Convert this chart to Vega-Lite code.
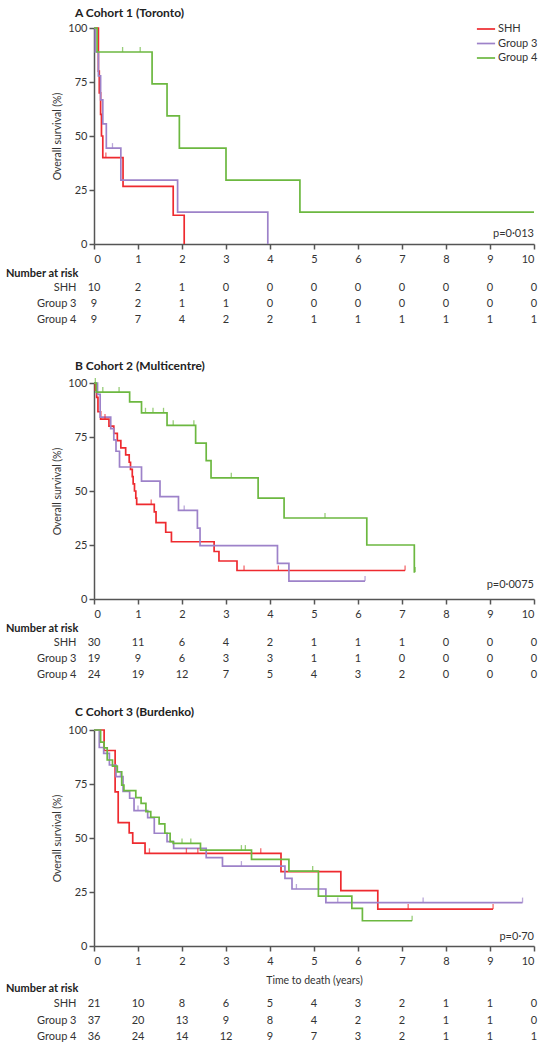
{
  "$schema": "https://vega.github.io/schema/vega-lite/v6.json",
  "padding": {"left": 6, "top": 7, "right": 5, "bottom": 2},
  "config": {
    "font": "Lato",
    "view": {"stroke": null},
    "axis": {"domainColor": "#555", "domainWidth": 1.5, "tickColor": "#555", "tickWidth": 1.5, "tickSize": 5, "labelColor": "#333", "labelFontSize": 11, "labelFont": "Lato", "titleFont": "Lato", "titleFontWeight": "normal", "titleColor": "#333", "titleFontSize": 10.5, "grid": false},
    "title": {"anchor": "start", "frame": "group", "fontSize": 12, "fontWeight": "bold", "color": "#222", "font": "Lato"},
    "line": {"interpolate": "step-after", "strokeWidth": 1.7}
  },
  "datasets": {
    "curveA": [
      {"g":"SHH","t":0,"s":100},{"g":"SHH","t":0.1,"s":80},{"g":"SHH","t":0.12,"s":70},{"g":"SHH","t":0.15,"s":60},{"g":"SHH","t":0.17,"s":50},{"g":"SHH","t":0.2,"s":40},{"g":"SHH","t":0.66,"s":26.7},{"g":"SHH","t":1.8,"s":13.3},{"g":"SHH","t":2.05,"s":0},
      {"g":"Group 3","t":0,"s":100},{"g":"Group 3","t":0.03,"s":88.9},{"g":"Group 3","t":0.1,"s":77.8},{"g":"Group 3","t":0.15,"s":66.7},{"g":"Group 3","t":0.2,"s":55.6},{"g":"Group 3","t":0.28,"s":44.4},{"g":"Group 3","t":0.61,"s":29.6},{"g":"Group 3","t":1.9,"s":14.8},{"g":"Group 3","t":3.95,"s":0},
      {"g":"Group 4","t":0,"s":100},{"g":"Group 4","t":0.07,"s":88.9},{"g":"Group 4","t":1.32,"s":74.1},{"g":"Group 4","t":1.66,"s":59.3},{"g":"Group 4","t":1.94,"s":44.4},{"g":"Group 4","t":3,"s":29.6},{"g":"Group 4","t":4.68,"s":14.8},{"g":"Group 4","t":10,"s":14.8}
    ],
    "tickA": [
      {"g":"SHH","t":0.27,"s":40},{"g":"Group 3","t":0.42,"s":44.4},{"g":"Group 4","t":0.65,"s":88.9},{"g":"Group 4","t":1.05,"s":88.9}
    ],
    "riskA": [
      {"g":"SHH","t":0,"n":10},{"g":"SHH","t":1,"n":2},{"g":"SHH","t":2,"n":1},{"g":"SHH","t":3,"n":0},{"g":"SHH","t":4,"n":0},{"g":"SHH","t":5,"n":0},{"g":"SHH","t":6,"n":0},{"g":"SHH","t":7,"n":0},{"g":"SHH","t":8,"n":0},{"g":"SHH","t":9,"n":0},{"g":"SHH","t":10,"n":0},
      {"g":"Group 3","t":0,"n":9},{"g":"Group 3","t":1,"n":2},{"g":"Group 3","t":2,"n":1},{"g":"Group 3","t":3,"n":1},{"g":"Group 3","t":4,"n":0},{"g":"Group 3","t":5,"n":0},{"g":"Group 3","t":6,"n":0},{"g":"Group 3","t":7,"n":0},{"g":"Group 3","t":8,"n":0},{"g":"Group 3","t":9,"n":0},{"g":"Group 3","t":10,"n":0},
      {"g":"Group 4","t":0,"n":9},{"g":"Group 4","t":1,"n":7},{"g":"Group 4","t":2,"n":4},{"g":"Group 4","t":3,"n":2},{"g":"Group 4","t":4,"n":2},{"g":"Group 4","t":5,"n":1},{"g":"Group 4","t":6,"n":1},{"g":"Group 4","t":7,"n":1},{"g":"Group 4","t":8,"n":1},{"g":"Group 4","t":9,"n":1},{"g":"Group 4","t":10,"n":1}
    ],
    "curveB": [
      {"g":"SHH","t":0,"s":100},{"g":"SHH","t":0.03,"s":96.7},{"g":"SHH","t":0.06,"s":93.3},{"g":"SHH","t":0.09,"s":86.7},{"g":"SHH","t":0.15,"s":83.3},{"g":"SHH","t":0.34,"s":80},{"g":"SHH","t":0.45,"s":76.7},{"g":"SHH","t":0.53,"s":73.3},{"g":"SHH","t":0.61,"s":70},{"g":"SHH","t":0.72,"s":66.7},{"g":"SHH","t":0.8,"s":63.3},{"g":"SHH","t":0.83,"s":60},{"g":"SHH","t":0.87,"s":56.7},{"g":"SHH","t":0.89,"s":53.3},{"g":"SHH","t":0.92,"s":50},{"g":"SHH","t":0.95,"s":46.7},{"g":"SHH","t":0.97,"s":43.8},{"g":"SHH","t":1.37,"s":40.3},{"g":"SHH","t":1.41,"s":35.4},{"g":"SHH","t":1.63,"s":30.9},{"g":"SHH","t":1.76,"s":26.5},{"g":"SHH","t":2.73,"s":22},{"g":"SHH","t":2.84,"s":17.6},{"g":"SHH","t":3.25,"s":13.2},{"g":"SHH","t":7.07,"s":13.2},
      {"g":"Group 3","t":0,"s":100},{"g":"Group 3","t":0.08,"s":94.7},{"g":"Group 3","t":0.14,"s":84.2},{"g":"Group 3","t":0.38,"s":78.9},{"g":"Group 3","t":0.45,"s":73.7},{"g":"Group 3","t":0.5,"s":68.4},{"g":"Group 3","t":0.58,"s":61.1},{"g":"Group 3","t":1.08,"s":54.6},{"g":"Group 3","t":1.5,"s":47.4},{"g":"Group 3","t":1.92,"s":41},{"g":"Group 3","t":2.35,"s":32.8},{"g":"Group 3","t":2.41,"s":24.7},{"g":"Group 3","t":4.17,"s":16.5},{"g":"Group 3","t":4.43,"s":8.3},{"g":"Group 3","t":6.16,"s":8.3},
      {"g":"Group 4","t":0,"s":100},{"g":"Group 4","t":0.05,"s":95.8},{"g":"Group 4","t":0.81,"s":91.3},{"g":"Group 4","t":1.08,"s":86.2},{"g":"Group 4","t":1.66,"s":80.4},{"g":"Group 4","t":2.31,"s":72.2},{"g":"Group 4","t":2.55,"s":64.1},{"g":"Group 4","t":2.66,"s":56.1},{"g":"Group 4","t":3.73,"s":46.7},{"g":"Group 4","t":4.32,"s":37.5},{"g":"Group 4","t":6.2,"s":25},{"g":"Group 4","t":7.28,"s":12.5},{"g":"Group 4","t":7.3,"s":12.5}
    ],
    "tickB": [
      {"g":"SHH","t":0.25,"s":83.3},{"g":"SHH","t":1.3,"s":43.8},{"g":"SHH","t":3.41,"s":13.2},{"g":"SHH","t":4.19,"s":13.2},{"g":"SHH","t":7.07,"s":13.2},
      {"g":"Group 3","t":2.05,"s":41},{"g":"Group 3","t":6.16,"s":8.3},
      {"g":"Group 4","t":0.03,"s":100},{"g":"Group 4","t":0.2,"s":95.8},{"g":"Group 4","t":0.57,"s":95.8},{"g":"Group 4","t":1.17,"s":86.2},{"g":"Group 4","t":1.34,"s":86.2},{"g":"Group 4","t":1.58,"s":86.2},{"g":"Group 4","t":1.8,"s":80.4},{"g":"Group 4","t":2.27,"s":80.4},{"g":"Group 4","t":3.12,"s":56.1},{"g":"Group 4","t":5.25,"s":37.5},{"g":"Group 4","t":7.3,"s":12.5}
    ],
    "riskB": [
      {"g":"SHH","t":0,"n":30},{"g":"SHH","t":1,"n":11},{"g":"SHH","t":2,"n":6},{"g":"SHH","t":3,"n":4},{"g":"SHH","t":4,"n":2},{"g":"SHH","t":5,"n":1},{"g":"SHH","t":6,"n":1},{"g":"SHH","t":7,"n":1},{"g":"SHH","t":8,"n":0},{"g":"SHH","t":9,"n":0},{"g":"SHH","t":10,"n":0},
      {"g":"Group 3","t":0,"n":19},{"g":"Group 3","t":1,"n":9},{"g":"Group 3","t":2,"n":6},{"g":"Group 3","t":3,"n":3},{"g":"Group 3","t":4,"n":3},{"g":"Group 3","t":5,"n":1},{"g":"Group 3","t":6,"n":1},{"g":"Group 3","t":7,"n":0},{"g":"Group 3","t":8,"n":0},{"g":"Group 3","t":9,"n":0},{"g":"Group 3","t":10,"n":0},
      {"g":"Group 4","t":0,"n":24},{"g":"Group 4","t":1,"n":19},{"g":"Group 4","t":2,"n":12},{"g":"Group 4","t":3,"n":7},{"g":"Group 4","t":4,"n":5},{"g":"Group 4","t":5,"n":4},{"g":"Group 4","t":6,"n":3},{"g":"Group 4","t":7,"n":2},{"g":"Group 4","t":8,"n":0},{"g":"Group 4","t":9,"n":0},{"g":"Group 4","t":10,"n":0}
    ],
    "curveC": [
      {"g":"SHH","t":0,"s":100},{"g":"SHH","t":0.23,"s":90.5},{"g":"SHH","t":0.48,"s":71.4},{"g":"SHH","t":0.55,"s":57.1},{"g":"SHH","t":0.8,"s":52.4},{"g":"SHH","t":0.88,"s":47.6},{"g":"SHH","t":1.16,"s":42.9},{"g":"SHH","t":4.25,"s":34.4},{"g":"SHH","t":5.61,"s":25.6},{"g":"SHH","t":6.45,"s":17.1},{"g":"SHH","t":9.07,"s":17.1},
      {"g":"Group 3","t":0,"s":100},{"g":"Group 3","t":0.12,"s":91.9},{"g":"Group 3","t":0.22,"s":89.2},{"g":"Group 3","t":0.35,"s":83.8},{"g":"Group 3","t":0.5,"s":78.4},{"g":"Group 3","t":0.66,"s":71.6},{"g":"Group 3","t":0.81,"s":68.4},{"g":"Group 3","t":0.91,"s":62.7},{"g":"Group 3","t":1.22,"s":59.4},{"g":"Group 3","t":1.37,"s":52.2},{"g":"Group 3","t":1.66,"s":48.3},{"g":"Group 3","t":1.81,"s":45.2},{"g":"Group 3","t":2.55,"s":40.9},{"g":"Group 3","t":2.92,"s":37},{"g":"Group 3","t":4.34,"s":31.3},{"g":"Group 3","t":4.5,"s":26.4},{"g":"Group 3","t":5.27,"s":20.1},{"g":"Group 3","t":9.74,"s":20.1},
      {"g":"Group 4","t":0,"s":100},{"g":"Group 4","t":0.15,"s":94.4},{"g":"Group 4","t":0.23,"s":91.7},{"g":"Group 4","t":0.3,"s":86.1},{"g":"Group 4","t":0.42,"s":83.3},{"g":"Group 4","t":0.53,"s":80.6},{"g":"Group 4","t":0.63,"s":74.5},{"g":"Group 4","t":0.68,"s":71.9},{"g":"Group 4","t":0.95,"s":68.7},{"g":"Group 4","t":1.07,"s":66},{"g":"Group 4","t":1.18,"s":62.2},{"g":"Group 4","t":1.29,"s":59.6},{"g":"Group 4","t":1.48,"s":56.5},{"g":"Group 4","t":1.61,"s":52.2},{"g":"Group 4","t":1.73,"s":48.3},{"g":"Group 4","t":1.8,"s":47.5},{"g":"Group 4","t":2.42,"s":44.4},{"g":"Group 4","t":3.58,"s":40.1},{"g":"Group 4","t":4.43,"s":34.7},{"g":"Group 4","t":5.1,"s":23.1},{"g":"Group 4","t":5.86,"s":17.4},{"g":"Group 4","t":6.1,"s":11.7},{"g":"Group 4","t":7.23,"s":11.7}
    ],
    "tickC": [
      {"g":"SHH","t":1.26,"s":42.9},{"g":"SHH","t":2.1,"s":42.9},{"g":"SHH","t":2.36,"s":42.9},{"g":"SHH","t":3.79,"s":42.9},{"g":"SHH","t":7.14,"s":17.1},{"g":"SHH","t":9.07,"s":17.1},
      {"g":"Group 3","t":0.6,"s":78.4},{"g":"Group 3","t":1.0,"s":62.7},{"g":"Group 3","t":3.35,"s":37},{"g":"Group 3","t":4.6,"s":26.4},{"g":"Group 3","t":5.54,"s":20.1},{"g":"Group 3","t":7.48,"s":20.1},{"g":"Group 3","t":9.74,"s":20.1},
      {"g":"Group 4","t":2.0,"s":47.5},{"g":"Group 4","t":2.2,"s":47.5},{"g":"Group 4","t":3.35,"s":44.4},{"g":"Group 4","t":3.44,"s":44.4},{"g":"Group 4","t":4.97,"s":34.7},{"g":"Group 4","t":7.23,"s":11.7}
    ],
    "riskC": [
      {"g":"SHH","t":0,"n":21},{"g":"SHH","t":1,"n":10},{"g":"SHH","t":2,"n":8},{"g":"SHH","t":3,"n":6},{"g":"SHH","t":4,"n":5},{"g":"SHH","t":5,"n":4},{"g":"SHH","t":6,"n":3},{"g":"SHH","t":7,"n":2},{"g":"SHH","t":8,"n":1},{"g":"SHH","t":9,"n":1},{"g":"SHH","t":10,"n":0},
      {"g":"Group 3","t":0,"n":37},{"g":"Group 3","t":1,"n":20},{"g":"Group 3","t":2,"n":13},{"g":"Group 3","t":3,"n":9},{"g":"Group 3","t":4,"n":8},{"g":"Group 3","t":5,"n":4},{"g":"Group 3","t":6,"n":2},{"g":"Group 3","t":7,"n":2},{"g":"Group 3","t":8,"n":1},{"g":"Group 3","t":9,"n":1},{"g":"Group 3","t":10,"n":0},
      {"g":"Group 4","t":0,"n":36},{"g":"Group 4","t":1,"n":24},{"g":"Group 4","t":2,"n":14},{"g":"Group 4","t":3,"n":12},{"g":"Group 4","t":4,"n":9},{"g":"Group 4","t":5,"n":7},{"g":"Group 4","t":6,"n":3},{"g":"Group 4","t":7,"n":2},{"g":"Group 4","t":8,"n":1},{"g":"Group 4","t":9,"n":1},{"g":"Group 4","t":10,"n":1}
    ]
  },
  "bounds": "flush",
  "spacing": 36,
  "resolve": {"legend": {"color": "independent"}},
  "vconcat": [
    {
      "width": 440, "height": 216,
      "title": {"text": "A  Cohort 1 (Toronto)", "dx": -19, "offset": 1},
      "layer": [
        {
          "data": {"name": "curveA"},
          "mark": {"type": "line"},
          "encoding": {
            "x": {"field": "t", "type": "quantitative", "scale": {"domain": [0, 10], "nice": false}, "axis": {"values": [0,1,2,3,4,5,6,7,8,9,10], "title": null, "labelPadding": 4}},
            "y": {"field": "s", "type": "quantitative", "scale": {"domain": [0, 100], "nice": false}, "axis": {"values": [0,25,50,75,100], "title": "Overall survival (%)", "titlePadding": 5, "labelPadding": 2}},
            "color": {"field": "g", "type": "nominal", "scale": {"domain": ["SHH","Group 3","Group 4"], "range": ["#ee2a2f","#9d82c9","#6cb840"]},
              "legend": {"title": null, "orient": "none", "legendX": 384, "legendY": -7, "symbolType": "M-1.3,0H1.3", "symbolSize": 196, "symbolStrokeWidth": 2, "labelFontSize": 11, "labelColor": "#333", "labelOffset": 4, "rowPadding": 1.5, "padding": 0}}
          }
        },
        {
          "data": {"name": "tickA"},
          "mark": {"type": "tick", "orient": "vertical", "size": 5, "thickness": 1.3, "yOffset": -2.5},
          "encoding": {
            "x": {"field": "t", "type": "quantitative"},
            "y": {"field": "s", "type": "quantitative"},
            "color": {"field": "g", "type": "nominal"}
          }
        },
        {
          "data": {"values": [{}]},
          "mark": {"type": "text", "align": "right", "baseline": "middle", "dy": -10, "fontSize": 11, "color": "#333"},
          "encoding": {"x": {"datum": 10, "type": "quantitative"}, "y": {"datum": 0, "type": "quantitative"}, "text": {"value": "p=0·013"}}
        }
      ]
    },
    {
      "width": 440, "height": 67,
      "title": {"text": "Number at risk", "dx": -88, "offset": 1.5, "fontSize": 11},
      "data": {"name": "riskA"},
      "mark": {"type": "text", "fontSize": 11, "color": "#333"},
      "encoding": {
        "x": {"field": "t", "type": "quantitative", "scale": {"domain": [0, 10], "nice": false}, "axis": null},
        "y": {"field": "g", "type": "nominal", "sort": ["SHH","Group 3","Group 4"], "scale": {"type": "band", "paddingInner": 0, "paddingOuter": 0.59375, "align": 0}, "axis": {"title": null, "domain": false, "ticks": false, "tickSize": 0, "labelPadding": 18}},
        "text": {"field": "n", "type": "quantitative", "format": "d"}
      }
    },
    {
      "width": 440, "height": 216,
      "title": {"text": "B  Cohort 2 (Multicentre)", "dx": -19, "offset": 4},
      "layer": [
        {
          "data": {"name": "curveB"},
          "mark": {"type": "line"},
          "encoding": {
            "x": {"field": "t", "type": "quantitative", "scale": {"domain": [0, 10], "nice": false}, "axis": {"values": [0,1,2,3,4,5,6,7,8,9,10], "title": null, "labelPadding": 4}},
            "y": {"field": "s", "type": "quantitative", "scale": {"domain": [0, 100], "nice": false}, "axis": {"values": [0,25,50,75,100], "title": "Overall survival (%)", "titlePadding": 5, "labelPadding": 2}},
            "color": {"field": "g", "type": "nominal", "scale": {"domain": ["SHH","Group 3","Group 4"], "range": ["#ee2a2f","#9d82c9","#6cb840"]}, "legend": null}
          }
        },
        {
          "data": {"name": "tickB"},
          "mark": {"type": "tick", "orient": "vertical", "size": 5, "thickness": 1.3, "yOffset": -2.5},
          "encoding": {
            "x": {"field": "t", "type": "quantitative"},
            "y": {"field": "s", "type": "quantitative"},
            "color": {"field": "g", "type": "nominal", "legend": null}
          }
        },
        {
          "data": {"values": [{}]},
          "mark": {"type": "text", "align": "right", "baseline": "middle", "dy": -14, "fontSize": 11, "color": "#333"},
          "encoding": {"x": {"datum": 10, "type": "quantitative"}, "y": {"datum": 0, "type": "quantitative"}, "text": {"value": "p=0·0075"}}
        }
      ]
    },
    {
      "width": 440, "height": 59,
      "title": {"text": "Number at risk", "dx": -88, "offset": 1.5, "fontSize": 11},
      "data": {"name": "riskB"},
      "mark": {"type": "text", "fontSize": 11, "color": "#333"},
      "encoding": {
        "x": {"field": "t", "type": "quantitative", "scale": {"domain": [0, 10], "nice": false}, "axis": null},
        "y": {"field": "g", "type": "nominal", "sort": ["SHH","Group 3","Group 4"], "scale": {"type": "band", "paddingInner": 0, "paddingOuter": 0.34375, "align": 0}, "axis": {"title": null, "domain": false, "ticks": false, "tickSize": 0, "labelPadding": 18}},
        "text": {"field": "n", "type": "quantitative", "format": "d"}
      }
    },
    {
      "width": 440, "height": 216,
      "title": {"text": "C  Cohort 3 (Burdenko)", "dx": -19, "offset": 5},
      "layer": [
        {
          "data": {"name": "curveC"},
          "mark": {"type": "line"},
          "encoding": {
            "x": {"field": "t", "type": "quantitative", "scale": {"domain": [0, 10], "nice": false}, "axis": {"values": [0,1,2,3,4,5,6,7,8,9,10], "title": "Time to death (years)", "titlePadding": 9, "labelPadding": 4}},
            "y": {"field": "s", "type": "quantitative", "scale": {"domain": [0, 100], "nice": false}, "axis": {"values": [0,25,50,75,100], "title": "Overall survival (%)", "titlePadding": 5, "labelPadding": 2}},
            "color": {"field": "g", "type": "nominal", "scale": {"domain": ["SHH","Group 3","Group 4"], "range": ["#ee2a2f","#9d82c9","#6cb840"]}, "legend": null}
          }
        },
        {
          "data": {"name": "tickC"},
          "mark": {"type": "tick", "orient": "vertical", "size": 5, "thickness": 1.3, "yOffset": -2.5},
          "encoding": {
            "x": {"field": "t", "type": "quantitative"},
            "y": {"field": "s", "type": "quantitative"},
            "color": {"field": "g", "type": "nominal", "legend": null}
          }
        },
        {
          "data": {"values": [{}]},
          "mark": {"type": "text", "align": "right", "baseline": "middle", "dy": -9, "fontSize": 11, "color": "#333"},
          "encoding": {"x": {"datum": 10, "type": "quantitative"}, "y": {"datum": 0, "type": "quantitative"}, "text": {"value": "p=0·70"}}
        }
      ]
    },
    {
      "width": 440, "height": 66,
      "title": {"text": "Number at risk", "dx": -88, "offset": -11.5, "fontSize": 11},
      "data": {"name": "riskC"},
      "mark": {"type": "text", "fontSize": 11, "color": "#333"},
      "encoding": {
        "x": {"field": "t", "type": "quantitative", "scale": {"domain": [0, 10], "nice": false}, "axis": null},
        "y": {"field": "g", "type": "nominal", "sort": ["SHH","Group 3","Group 4"], "scale": {"type": "band", "paddingInner": 0, "paddingOuter": 0.5, "align": 0.848}, "axis": {"title": null, "domain": false, "ticks": false, "tickSize": 0, "labelPadding": 18}},
        "text": {"field": "n", "type": "quantitative", "format": "d"}
      }
    }
  ]
}
